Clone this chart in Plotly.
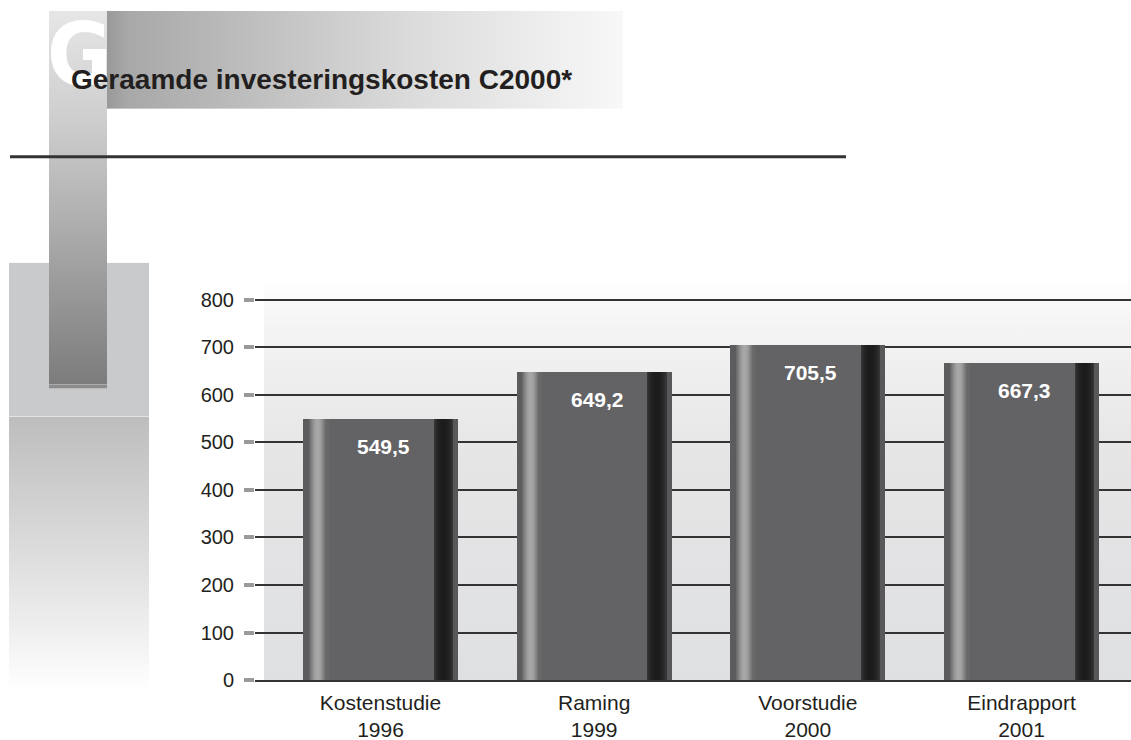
import base64, math
import plotly.graph_objects as go

# ---------------- data ----------------
categories = ["Kostenstudie", "Raming", "Voorstudie", "Eindrapport"]
years = ["1996", "1999", "2000", "2001"]
values = [549.5, 649.2, 705.5, 667.3]
value_labels = ["549,5", "649,2", "705,5", "667,3"]
y_ticks = [0, 100, 200, 300, 400, 500, 600, 700, 800]
title_text = "Geraamde investeringskosten C2000*"
initial_letter = "G"

# ---------------- geometry helpers ----------------
W, H = 1131, 740          # target picture size (coordinates below are in these pixels)
FIG_H = 750               # figure height actually emitted
def px(x):
    return x / W
def py(y):
    return 1 - y / H

def grad_uri(stops, vertical=True):
    x2, y2 = ("0", "1") if vertical else ("1", "0")
    st = "".join(f'<stop offset="{o}" stop-color="{c}"/>' for o, c in stops)
    svg = (f'<svg xmlns="http://www.w3.org/2000/svg" width="100" height="100" viewBox="0 0 100 100" '
           f'preserveAspectRatio="none"><defs><linearGradient id="g" x1="0" y1="0" x2="{x2}" y2="{y2}">'
           f'{st}</linearGradient></defs><rect x="0" y="0" width="100" height="100" fill="url(#g)"/></svg>')
    return "data:image/svg+xml;base64," + base64.b64encode(svg.encode()).decode()

def img(uri, x0, y0, x1, y1):
    return dict(source=uri, xref="paper", yref="paper", x=px(x0), y=py(y0),
                sizex=(x1 - x0) / W, sizey=(y1 - y0) / H, xanchor="left", yanchor="top",
                sizing="stretch", layer="below")

# plot area in target pixels
PL, PR, PT, PB = 255, 1131, 278, 681
UNIT = 213.67                      # px per category
X0 = -(380.5 - PL) / UNIT
X1 = 3 + (PR - 1021.5) / UNIT
PX_PER_VAL = (681 - 300) / 800.0
YTOP = (PB - PT) / PX_PER_VAL

fig = go.Figure()
xs = list(range(len(categories)))

# bar body + cylinder shading strips
BAR_PX = 155
def add_strip(p0, p1, color):
    fig.add_trace(go.Bar(x=xs, y=values, width=(p1 - p0) / UNIT,
                         offset=(p0 - BAR_PX / 2) / UNIT,
                         marker=dict(color=color, line=dict(width=0)),
                         hoverinfo="skip", showlegend=False))

add_strip(0, BAR_PX, "#636365")
add_strip(0, 6.6, "#5c5c5e")
for i in range(6, 25):
    t = (i + 0.5 - 6) / 19.0
    v = int(104 + 64 * math.sin(math.pi * min(1, t / 0.9)) ** 1.2)
    add_strip(i, i + 1.6, f"rgb({v},{v},{v+1})")
for i in range(131, 150):
    t = (i + 0.5 - 131) / 19.0
    v = int(64 - 36 * math.sin(math.pi * t) ** 0.5)
    add_strip(i, i + 1.6, f"rgb({v},{v},{v})")
add_strip(150, BAR_PX, "#58585a")

# ---------------- decorations ----------------
images = [
    img(grad_uri([(0, "#c9cacc"), (1, "#c9cacc")]), 9, 263, 149, 417),
    img(grad_uri([(0, "#bdbdbe"), (0.35, "#d3d3d4"), (0.75, "#ededed"), (1, "#ffffff")]), 9, 417, 149, 692),
    img(grad_uri([(0, "#e6e6e6"), (0.3, "#cdcdcd"), (1, "#7c7c7c")]), 49, 11, 107, 385),
    img(grad_uri([(0, "#8c8c8c"), (1, "#8c8c8c")]), 49, 385, 107, 389),
    img(grad_uri([(0, "#999999"), (0.04, "#a8a8a8"), (0.6, "#dcdcdc"), (1, "#f8f8f8")], vertical=False), 107, 11, 623, 109),
    img(grad_uri([(0, "#ffffff"), (0.12, "#f4f4f4"), (0.45, "#e5e5e6"), (1, "#dfe0e2")]), 264, 278, 1131, 681),
]

shapes = [dict(type="line", xref="paper", yref="paper", x0=px(10), x1=px(846), y0=py(157), y1=py(157),
               line=dict(color="#333333", width=3), layer="above")]

annotations = [
    dict(text=initial_letter, xref="paper", yref="paper", x=px(45), y=py(1), xanchor="left", yanchor="top",
         showarrow=False,
         font=dict(family="DejaVu Sans Condensed, Roboto, sans-serif",
                   size=88, color="#ffffff", weight="bold")),
    dict(text=title_text, xref="paper", yref="paper", x=px(69), y=py(80), xanchor="left", yanchor="middle",
         showarrow=False, font=dict(family="Liberation Sans", size=28, color="#231f20", weight="bold")),
]
for xi, v, lab in zip(xs, values, value_labels):
    annotations.append(dict(text=lab, x=xi, y=v, xref="x", yref="y", xanchor="center", yanchor="middle",
                            yshift=-28, xshift=3, showarrow=False,
                            font=dict(family="Liberation Sans", size=21, color="#ffffff", weight="bold")))

tick_text = [f"{c}<br>{y}" for c, y in zip(categories, years)]

fig.update_layout(
    width=W, height=FIG_H, margin=dict(l=0, r=0, t=0, b=0),
    paper_bgcolor="#ffffff", plot_bgcolor="rgba(0,0,0,0)",
    barmode="overlay", bargap=0, showlegend=False,
    images=images, shapes=shapes, annotations=annotations,
    font=dict(family="Liberation Sans", color="#231f20", size=20),
    xaxis=dict(domain=[px(PL), px(PR)], range=[X0, X1], tickvals=xs, ticktext=tick_text,
               showgrid=False, zeroline=False, showline=True, linecolor="#333333", linewidth=1.5,
               ticks="", ticklabelstandoff=3, tickfont=dict(size=21, color="#231f20"), fixedrange=True),
    yaxis=dict(domain=[py(PB), py(PT)], range=[0, YTOP], tickvals=y_ticks,
               ticktext=[str(t) for t in y_ticks],
               showgrid=True, gridcolor="#333333", gridwidth=1.5, zeroline=False, showline=False,
               ticks="outside", ticklen=10, tickwidth=4, tickcolor="#999a9c",
               ticklabelstandoff=6, tickfont=dict(size=20, color="#231f20"), fixedrange=True),
)

# remove the browser's default 8px page margin so the figure starts at the window corner
fig.write_html("out.html", config={"displayModeBar": False},
               post_script="document.body.style.margin='0';document.body.style.overflow='hidden';")
